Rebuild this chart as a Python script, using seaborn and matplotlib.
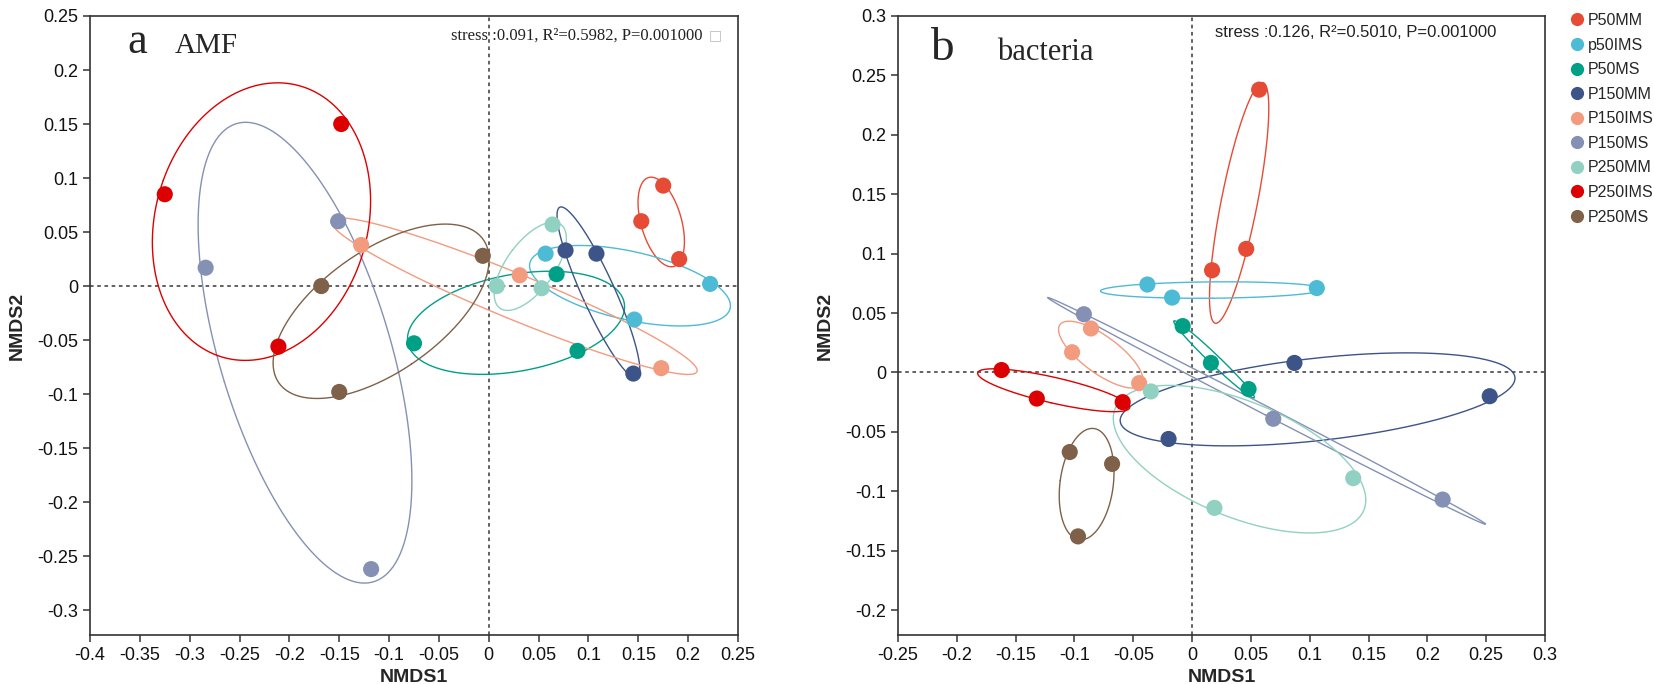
import numpy as np
import pandas as pd
import seaborn as sns
import matplotlib.pyplot as plt
from matplotlib.lines import Line2D

# groups and colours (npg-like palette)
groups = ["P50MM", "p50IMS", "P50MS", "P150MM", "P150IMS", "P150MS",
          "P250MM", "P250IMS", "P250MS"]
colors = ["#E64B35", "#4DBBD5", "#00A087", "#3C5488", "#F39B7F", "#8491B4",
          "#91D1C2", "#DC0000", "#7E6148"]

# panel a: AMF, three samples per group (same order as groups)
amf_x = [0.175, 0.153, 0.191,
         0.057, 0.222, 0.146,
         -0.075, 0.068, 0.089,
         0.077, 0.108, 0.145,
         -0.128, 0.031, 0.173,
         -0.151, -0.284, -0.118,
         0.064, 0.008, 0.053,
         -0.325, -0.148, -0.211,
         -0.168, -0.006, -0.150]
amf_y = [0.093, 0.060, 0.025,
         0.030, 0.002, -0.031,
         -0.053, 0.011, -0.060,
         0.033, 0.030, -0.081,
         0.038, 0.010, -0.076,
         0.060, 0.017, -0.262,
         0.057, 0.000, -0.002,
         0.085, 0.150, -0.056,
         0.000, 0.028, -0.098]

# panel b: bacteria
bac_x = [0.057, 0.046, 0.017,
         -0.038, -0.017, 0.106,
         -0.008, 0.016, 0.048,
         0.087, -0.020, 0.253,
         -0.086, -0.102, -0.045,
         -0.092, 0.069, 0.213,
         -0.035, 0.019, 0.137,
         -0.162, -0.132, -0.059,
         -0.104, -0.068, -0.097]
bac_y = [0.238, 0.104, 0.086,
         0.074, 0.063, 0.071,
         0.039, 0.008, -0.014,
         0.008, -0.056, -0.020,
         0.037, 0.017, -0.009,
         0.049, -0.039, -0.107,
         -0.016, -0.114, -0.089,
         0.002, -0.022, -0.025,
         -0.067, -0.077, -0.138]

group_col = [g for g in groups for _ in range(3)]
amf = pd.DataFrame({"NMDS1": amf_x, "NMDS2": amf_y, "group": group_col})
bac = pd.DataFrame({"NMDS1": bac_x, "NMDS2": bac_y, "group": group_col})

sns.set_style("white")
plt.rcParams["font.family"] = ["Liberation Sans", "DejaVu Sans"]
palette = dict(zip(groups, colors))


def draw_ellipse(ax, pts, color, r=1.22):
    mu = pts.mean(axis=0)
    cov = np.cov(pts.T)
    vals, vecs = np.linalg.eigh(cov)
    t = np.linspace(0, 2 * np.pi, 300)
    circ = np.vstack([np.cos(t), np.sin(t)])
    ell = vecs @ (np.sqrt(np.clip(vals, 0, None))[:, None] * circ) * r
    ax.plot(ell[0] + mu[0], ell[1] + mu[1], color=color, lw=1.0, zorder=2)


def fmt(v):
    s = f"{v:.2f}".rstrip("0").rstrip(".")
    return "0" if s in ("-0", "0") else s


def panel(ax, df, xlim, ylim, xticks, yticks):
    ax.axhline(0, color="#555555", lw=1.3, ls=(0, (2, 2)), zorder=1)
    ax.axvline(0, color="#555555", lw=1.3, ls=(0, (2, 2)), zorder=1)
    for g in groups:
        sub = df[df["group"] == g][["NMDS1", "NMDS2"]].to_numpy()
        draw_ellipse(ax, sub, palette[g])
    sns.scatterplot(data=df, x="NMDS1", y="NMDS2", hue="group", palette=palette,
                    s=135, edgecolor="none", legend=False, ax=ax, zorder=3)
    ax.set_xlim(*xlim)
    ax.set_ylim(*ylim)
    ax.set_xticks(xticks)
    ax.set_yticks(yticks)
    ax.set_xticklabels([fmt(v) for v in xticks])
    ax.set_yticklabels([fmt(v) for v in yticks])
    ax.tick_params(direction="out", length=5, width=1.1, colors="#333333",
                   labelcolor="#111111", labelsize=13, bottom=True, left=True)
    for sp in ax.spines.values():
        sp.set_color("#333333")
        sp.set_linewidth(1.2)
    ax.set_xlabel("NMDS1", fontsize=14, fontweight="bold", labelpad=4)
    ax.set_ylabel("NMDS2", fontsize=14, fontweight="bold", labelpad=8)


fig = plt.figure(figsize=(16.54, 6.84), dpi=100)
ax_a = fig.add_axes([90 / 1654, 49 / 684, 648 / 1654, 619 / 684])
ax_b = fig.add_axes([898 / 1654, 49 / 684, 647 / 1654, 619 / 684])

panel(ax_a, amf, (-0.4, 0.25), (-0.323, 0.25),
      np.round(np.arange(-0.4, 0.2501, 0.05), 2),
      np.round(np.arange(-0.3, 0.2501, 0.05), 2))
panel(ax_b, bac, (-0.25, 0.3), (-0.221, 0.3),
      np.round(np.arange(-0.25, 0.3001, 0.05), 2),
      np.round(np.arange(-0.2, 0.3001, 0.05), 2))

serif = ["Liberation Serif", "DejaVu Serif"]
ax_a.text(0.057, 0.94, "a", transform=ax_a.transAxes, fontsize=32, family=serif)
ax_a.text(0.13, 0.94, "AMF", transform=ax_a.transAxes, fontsize=21, family=serif)
ax_a.text(0.557, 0.969, "stress :0.091, R²=0.5982, P=0.001000", transform=ax_a.transAxes,
          fontsize=12, family=serif, va="center", color="#222222")
ax_a.text(0.955, 0.969, "□", transform=ax_a.transAxes, fontsize=10,
          family=["DejaVu Sans"], va="center", color="#bbbbbb")

ax_b.text(0.05, 0.929, "b", transform=ax_b.transAxes, fontsize=34, family=serif)
ax_b.text(0.153, 0.929, "bacteria", transform=ax_b.transAxes, fontsize=22, family=serif)
ax_b.text(0.49, 0.974, "stress :0.126, R²=0.5010, P=0.001000", transform=ax_b.transAxes,
          fontsize=12, va="center", color="#222222")

handles = [Line2D([], [], marker="o", ls="", markersize=9.5, color=c,
                  markeredgewidth=0) for c in colors]
fig.legend(handles, groups, loc="upper left", bbox_to_anchor=(1569 / 1654, 1 - 13 / 684),
           frameon=False, fontsize=11.5, handletextpad=0.2, handlelength=1.0,
           labelspacing=0.6, borderaxespad=0, borderpad=0)

fig.savefig("out.png", dpi=100)
